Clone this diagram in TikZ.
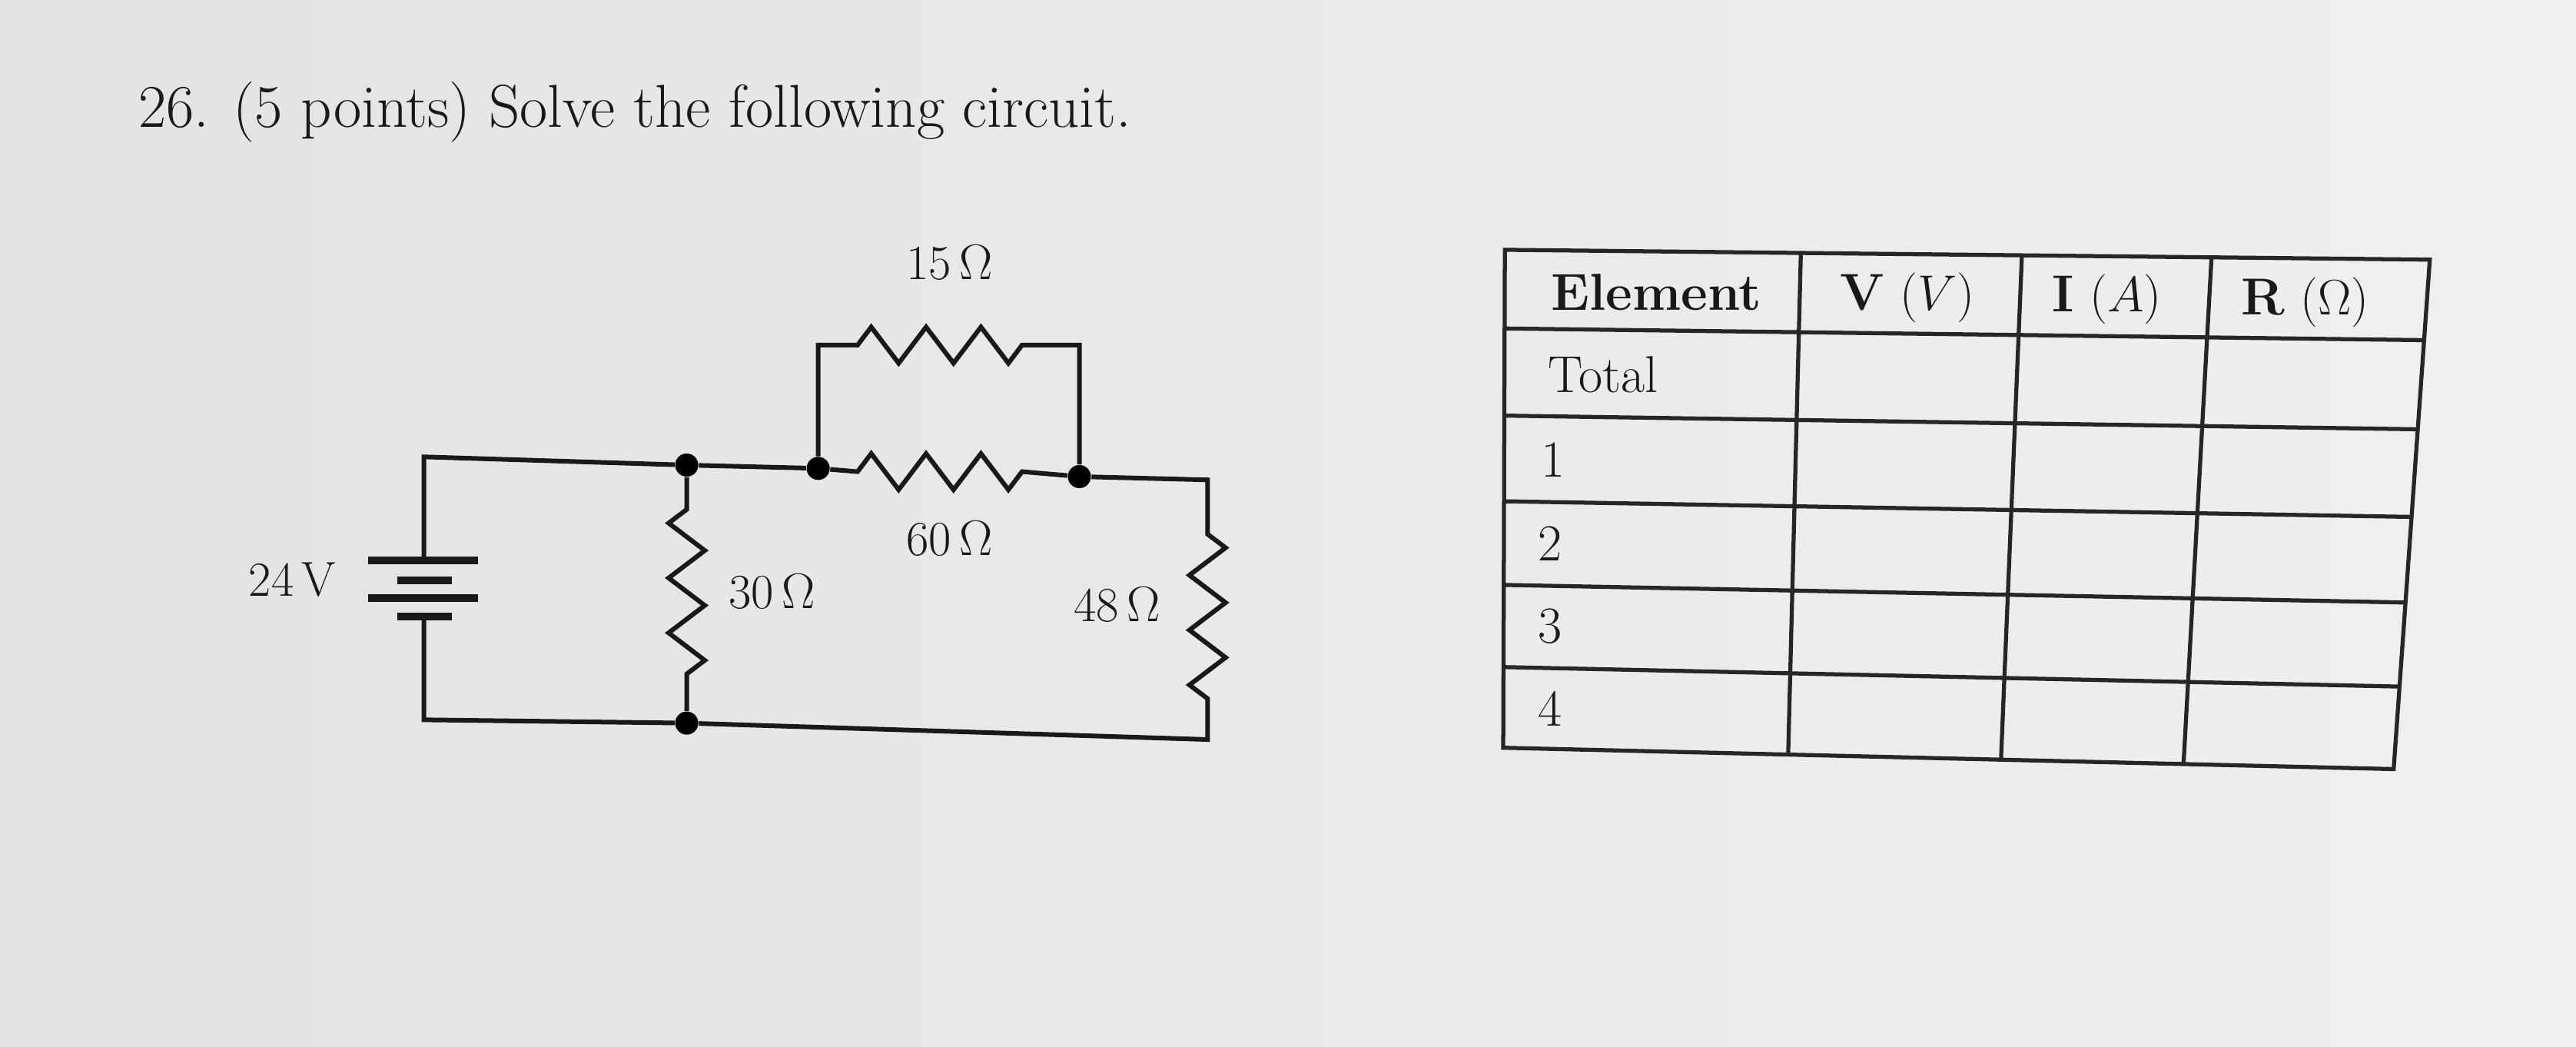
\documentclass[tikz,border=0pt]{standalone}
\usetikzlibrary{calc}
\begin{document}
\begin{tikzpicture}[x=0.02cm,y=-0.02cm,
  wire/.style={line width=1.6pt,black!90},
  plate/.style={line width=2.6pt,black!90},
  dotn/.style={circle,fill=black,inner sep=0pt,minimum size=8pt},
  lab/.style={font=\fontsize{17}{20}\selectfont,text=black!90},
  cell/.style={font=\fontsize{18}{21}\selectfont,anchor=west,text=black!90},
  grid/.style={line width=1.4pt,black!85}]
\fill[left color=gray!22,right color=gray!12] (0,0) rectangle (1568,637);
\useasboundingbox (0,0) rectangle (1568,637);
\node[lab,anchor=west,font=\fontsize{21}{25}\selectfont] (title) at (78,68) {26. (5 points) Solve the following circuit.};
% coordinates
\coordinate (bt) at (258,278);
\coordinate (bb) at (258,438);
\node[dotn] (n1) at (418,283) {};
\node[dotn] (n2) at (418,440) {};
\node[dotn] (n3) at (498,285) {};
\node[dotn] (n4) at (657,290) {};
\coordinate (c5) at (735,292);
\coordinate (c6) at (735,450);
% battery
\draw[wire] (n1) -- (bt) -- (258,341);
\draw[plate] (224,341) -- (291,341);
\draw[plate] (242,353) -- (275,353);
\draw[plate] (224,364) -- (291,364);
\draw[plate] (242,375) -- (275,375);
\draw[wire] (258,375) -- (bb) -- (n2);
\node[lab] (v24) at (178,353) {24\,V};
% 30 ohm
\draw[wire] (n1) -- (418,310) -- ++(-11,8.3) -- ++(22,16.7) -- ++(-22,16.7) -- ++(22,16.7) -- ++(-22,16.7) -- ++(22,16.7) -- ++(-11,8.3) -- (n2);
\node[lab] (r30) at (470,360) {30\,$\Omega$};
% top wire
\draw[wire] (n3) -- (n1);
% 15 ohm
\draw[wire] (n3) -- (498,210) -- (522,210) -- ++(8.3,-11) -- ++(16.7,22) -- ++(16.7,-22) -- ++(16.7,22) -- ++(16.7,-22) -- ++(16.7,22) -- ++(8.3,-11) -- (657,210) -- (n4);
\node[lab] (r15) at (578,160) {15\,$\Omega$};
% 60 ohm
\draw[wire] (n3) -- (522,287) -- ++(8.3,-11) -- ++(16.7,22) -- ++(16.7,-22) -- ++(16.7,22) -- ++(16.7,-22) -- ++(16.7,22) -- ++(8.3,-11) -- (n4);
\node[lab] (r60) at (578,328) {60\,$\Omega$};
% 48 ohm
\draw[wire] (n4) -- (c5) -- (735,325) -- ++(11,8.3) -- ++(-22,16.7) -- ++(22,16.7) -- ++(-22,16.7) -- ++(22,16.7) -- ++(-22,16.7) -- ++(11,8.3) -- (c6) -- (n2);
\node[lab] (r48) at (680,368) {48\,$\Omega$};
% table
\coordinate (TL) at (916,152);
\coordinate (TR) at (1479,158);
\coordinate (BL) at (915,455);
\coordinate (BR) at (1457,468);
\draw[grid] (TL) -- (TR) -- (BR) -- (BL) -- cycle;
\foreach \u in {0.32,0.559,0.764}
  \draw[grid] ($(TL)!\u!(TR)$) -- ($(BL)!\u!(BR)$);
\foreach \v in {0.158,0.333,0.505,0.673,0.838}
  \draw[grid] ($(TL)!\v!(BL)$) -- ($(TR)!\v!(BR)$);
\node[cell] (h1) at (938,178) {\textbf{Element}};
\node[cell] (h2) at (1114,181) {\textbf{V} $(V)$};
\node[cell] (h3) at (1243,182) {\textbf{I} $(A)$};
\node[cell] (h4) at (1358,184) {\textbf{R} $(\Omega)$};
\node[cell] (t0) at (936,228) {Total};
\node[cell] (t1) at (932,280) {1};
\node[cell] (t2) at (930,331) {2};
\node[cell] (t3) at (930,381) {3};
\node[cell] (t4) at (930,431) {4};
\end{tikzpicture}
\end{document}
